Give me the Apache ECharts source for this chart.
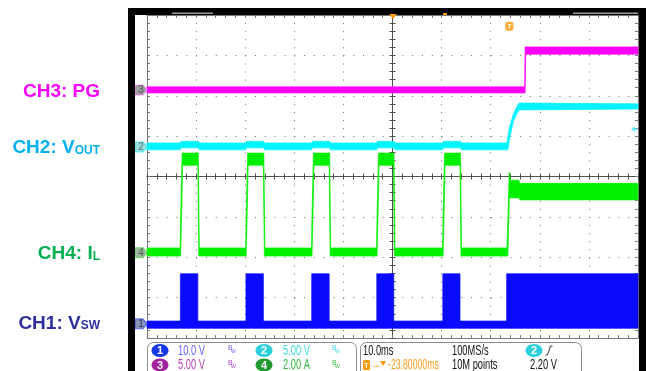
<!DOCTYPE html>
<html><head><meta charset="utf-8">
<script src="https://cdn.jsdelivr.net/npm/echarts@6/dist/echarts.min.js"></script>
<style>html,body{margin:0;padding:0;background:#fff}#c{width:646px;height:371px}</style>
</head><body><div id="c"></div>
<script>
// ---- Data (time in ms, 0..100 over 10 div; amplitude in divisions, -4..4) ----
// Each trace is drawn as its envelope: top edge and bottom edge, left to right.
const ch1Top = [[0,-3.58],[6.8,-3.58],[6.8,-2.41],[10.35,-2.41],[10.35,-3.58],[20.15,-3.58],[20.15,-2.41],[23.7,-2.41],[23.7,-3.58],[33.55,-3.58],[33.55,-2.41],[37.1,-2.41],[37.1,-3.58],[46.8,-3.58],[46.8,-2.41],[50.25,-2.41],[50.25,-3.58],[60.25,-3.58],[60.25,-2.41],[63.75,-2.41],[63.75,-3.58],[73.25,-3.58],[73.25,-2.41],[100,-2.41]];
const ch1Bottom = [[0,-3.76],[100,-3.76]];

const ch2Top = [[0,0.83],[6.75,0.83],[6.95,0.87],[10.45,0.87],[10.65,0.83],[20.1,0.83],[20.3,0.87],[23.75,0.87],[23.95,0.83],[33.5,0.83],[33.7,0.87],[37.15,0.87],[37.35,0.83],[46.75,0.83],[46.95,0.87],[50.3,0.87],[50.5,0.83],[60.2,0.83],[60.4,0.87],[63.85,0.87],[64.05,0.83],[73.3,0.83],[73.5,1.0],[73.8,1.2],[74.6,1.55],[75.3,1.72],[75.8,1.82],[100,1.8]];
const ch2Bottom = [[0,0.66],[6.75,0.66],[6.95,0.71],[10.45,0.71],[10.65,0.66],[20.1,0.66],[20.3,0.71],[23.75,0.71],[23.95,0.66],[33.5,0.66],[33.7,0.71],[37.15,0.71],[37.35,0.66],[46.75,0.66],[46.95,0.71],[50.3,0.71],[50.5,0.66],[60.2,0.66],[60.4,0.71],[63.85,0.71],[64.05,0.66],[73.5,0.66],[73.8,0.9],[74.6,1.35],[75.3,1.55],[75.8,1.65],[100,1.67]];

const ch3Top = [[0,2.22],[76.92,2.22],[77.0,3.21],[100,3.21]];
const ch3Bottom = [[0,2.07],[77.0,2.07],[77.15,3.03],[100,3.03]];

const ch4Top = [[0,-1.77],
 [6.75,-1.77],[6.85,-1.0],[7.0,-0.2],[7.15,0.58],[10.45,0.58],[10.65,-1.77],
 [20.1,-1.77],[20.2,-1.0],[20.35,-0.2],[20.5,0.58],[23.8,0.58],[24.0,-1.77],
 [33.5,-1.77],[33.6,-1.0],[33.75,-0.2],[33.9,0.58],[37.2,0.58],[37.4,-1.77],
 [46.75,-1.77],[46.85,-1.0],[47.0,-0.2],[47.15,0.58],[50.3,0.58],[50.5,-1.77],
 [60.2,-1.77],[60.3,-1.0],[60.45,-0.2],[60.6,0.58],[63.85,0.58],[64.05,-1.77],
 [73.3,-1.77],[73.55,-0.9],[73.75,0.1],[73.85,0.1],[73.95,-0.09],[75.75,-0.09],[75.85,-0.17],[100,-0.17]];
const ch4Bottom = [[0,-1.97],
 [6.85,-1.97],[7.0,-1.2],[7.15,-0.4],[7.25,0.28],[10.35,0.28],[10.55,-1.97],
 [20.2,-1.97],[20.35,-1.2],[20.5,-0.4],[20.6,0.28],[23.7,0.28],[23.9,-1.97],
 [33.6,-1.97],[33.75,-1.2],[33.9,-0.4],[34.0,0.28],[37.1,0.28],[37.3,-1.97],
 [46.85,-1.97],[47.0,-1.2],[47.15,-0.4],[47.25,0.28],[50.2,0.28],[50.4,-1.97],
 [60.3,-1.97],[60.45,-1.2],[60.6,-0.4],[60.7,0.28],[63.75,0.28],[63.95,-1.97],
 [73.5,-1.97],[73.8,-0.53],[75.8,-0.53],[75.9,-0.58],[100,-0.58]];

// channel ground markers (ch1..ch4), trigger
const channelNames = ['1','2','3','4'];
const groundLevels = [-3.65, 0.73, 2.14, -1.89];
const triggerTime = 73.8;
const triggerLevel = 1.17;

// Text
const sideLabels = [['CH3: PG',''],['CH2: V','OUT'],['CH4: I','L'],['CH1: V','SW']];
const scaleTexts = ['10.0 V','5.00 V','5.00 V','2.00 A'];
const timebaseTexts = ['10.0ms','100MS/s','10M points','2.20 V','-23.80000ms'];

// ---- Chart ----
const chart = echarts.init(document.getElementById('c'));
const axisGrey = '#7a7a7a', centerGrey = '#505050', dotGrey = '#6e6e6e';
function ticks(color){
  return {
    axisLine:{show:true,onZero:false,lineStyle:{color:color,width:1}},
    axisTick:{show:true,inside:true,length:3,lineStyle:{color:color}},
    minorTick:{show:true,splitNumber:5,length:3,lineStyle:{color:color}},
    axisLabel:{show:false},splitLine:{show:false},minorSplitLine:{show:false}
  };
}
const X = {type:'value',min:0,max:100,interval:10};
const Y = {type:'value',min:-4,max:4,interval:1};
const H = {type:'value',min:0,max:1,show:false,axisLine:{onZero:false}};

function band(name, top, bottom, color){
  const pts = top.concat(bottom.slice().reverse());
  return {
    type:'custom', name:name, xAxisIndex:0, yAxisIndex:0, data:pts, encode:{x:0,y:1},
    silent:true, animation:false, z:3,
    renderItem:function(params, api){
      if (params.dataIndexInside !== 0) return null;
      const n = params.dataInsideLength, poly = [];
      for (let i=0;i<n;i++) poly.push(api.coord([api.value(0,i), api.value(1,i)]));
      return {type:'polygon', shape:{points:poly}, style:{fill:color, stroke:color, lineWidth:0.7}};
    }
  };
}
const markerStyles = [
  {fill:'#6a78a6',border:'#2840ff',text:'#10104a'},
  {fill:'#7fd6d6',border:'#30f0f0',text:'#505050'},
  {fill:'#8a8a8a',border:'#ff70ff',text:'#404040'},
  {fill:'#86a886',border:'#50e050',text:'#404040'}
];
const markerSeries = channelNames.map(function(n,i){
  return {type:'scatter', xAxisIndex:0, yAxisIndex:0, clip:false, z:5, silent:true, animation:false,
    data:[[0, groundLevels[i]]], symbol:'path://M0,0L8,0L12,5L8,10L0,10Z', symbolSize:[12,10], symbolOffset:[-6,0],
    itemStyle:{color:markerStyles[i].fill, borderColor:markerStyles[i].border, borderWidth:1},
    label:{show:true, formatter:n, position:'inside', color:markerStyles[i].text, fontSize:10, fontFamily:'Liberation Sans'}};
});

const F = '"Liberation Sans", Arial, sans-serif';
function sideLabel(y, parts, color){
  return {type:'text', x:100, y:y, z:100, silent:true, style:{
    text:'{m|'+parts[0]+'}'+(parts[1]?'{s|'+parts[1]+'}':''), align:'right', verticalAlign:'middle',
    rich:{m:{font:'bold 19px '+F, fill:color}, s:{font:'bold 12px '+F, fill:color, verticalAlign:'bottom', padding:[0,0,1,0]}}}};
}
function ptxt(x, y, text, fill, size, sx){
  return {type:'text', x:x, y:y, z:100, scaleX:sx||0.62, silent:true,
    style:{text:text, fill:fill, font:(size||15)+'px '+F, align:'left', verticalAlign:'middle'}};
}
function circ(cx, cy, fill, n){
  return [{type:'ellipse', z:100, shape:{cx:cx,cy:cy,rx:8.5,ry:6.5}, style:{fill:fill}},
    {type:'text', x:cx, y:cy+0.5, z:101, style:{text:n, fill:'#fff', font:'bold 11px '+F, align:'center', verticalAlign:'middle'}}];
}
function bw(x, y, fill){
  return [{type:'text', x:x, y:y, z:100, style:{text:'B', fill:fill, font:'7px '+F, align:'left', verticalAlign:'middle'}},
    {type:'text', x:x+3, y:y+3.5, z:100, style:{text:'W', fill:fill, font:'5px '+F, align:'left', verticalAlign:'middle'}}];
}
const r1 = 350.5, r2 = 365;
const graphics = [
  {type:'rect', z:90, shape:{x:128,y:8,width:518,height:7}, style:{fill:'#000'}},
  {type:'rect', z:90, shape:{x:128,y:8,width:7,height:363}, style:{fill:'#000'}},
  {type:'rect', z:90, shape:{x:639,y:8,width:7,height:363}, style:{fill:'#000'}},
  {type:'rect', z:91, shape:{x:172,y:12.5,width:41,height:1.5}, style:{fill:'#9a9a9a'}},
  {type:'rect', z:91, shape:{x:573,y:12.5,width:65,height:1.5}, style:{fill:'#9a9a9a'}},
  {type:'polygon', z:95, shape:{points:[[389,14],[397,14],[393,19]]}, style:{fill:'#ff9900'}},
  {type:'rect', z:95, shape:{x:443,y:13,width:4,height:2}, style:{fill:'#ff9900'}},
  sideLabel(92, sideLabels[0], '#ff00ff'),
  sideLabel(148, sideLabels[1], '#00b0f0'),
  sideLabel(254, sideLabels[2], '#00b050'),
  sideLabel(323.5, sideLabels[3], '#2f2fa0'),
  {type:'rect', z:99, shape:{x:147.5,y:342.5,width:209,height:40,r:6}, style:{fill:'none',stroke:'#8c8c8c',lineWidth:1}},
  {type:'rect', z:99, shape:{x:360.5,y:342.5,width:221,height:40,r:6}, style:{fill:'none',stroke:'#8c8c8c',lineWidth:1}},
  ...circ(160, r1, '#1638e8', '1'), ...circ(160, r2, '#a0229c', '3'),
  ...circ(264, r1, '#2ccfdc', '2'), ...circ(264, r2, '#1e9a2e', '4'),
  ...circ(534, r1, '#2ccfdc', '2'),
  ptxt(178, r1, scaleTexts[0], '#6464ff'), ptxt(178, r2, scaleTexts[1], '#c040c0'),
  ptxt(283, r1, scaleTexts[2], '#3cd6e2'), ptxt(283, r2, scaleTexts[3], '#2fb43a'),
  ...bw(228, r1-2, '#7a5cff'), ...bw(228, r2-2, '#b040d0'),
  ...bw(332, r1-2, '#40d8e8'), ...bw(332, r2-2, '#40c040'),
  ptxt(363, r1, timebaseTexts[0], '#111'), ptxt(452, r1, timebaseTexts[1], '#111'),
  ptxt(452, r2, timebaseTexts[2], '#111'), ptxt(530, r2, timebaseTexts[3], '#111'),
  {type:'polyline', z:100, shape:{points:[[545.5,355],[547.5,355],[550.5,346],[552.5,346]]}, style:{stroke:'#333',lineWidth:1,fill:'none'}},
  {type:'rect', z:100, shape:{x:363,y:360,width:7,height:10,r:1.5}, style:{fill:'#ff9900'}},
  {type:'text', x:366.5, y:365.5, z:101, style:{text:'T', fill:'#fff', font:'bold 8px '+F, align:'center', verticalAlign:'middle'}},
  ptxt(371, r2, '\u2192', '#ff9900', 12, 0.8),
  {type:'polygon', z:100, shape:{points:[[380,361],[386,361],[383,366]]}, style:{fill:'#ff9900'}},
  ptxt(388, r2, timebaseTexts[4], '#ff9c1a', 15, 0.58)
];

const option = {
  animation:false, backgroundColor:'#fff',
  grid:[
    {left:147,right:8,top:15,bottom:33},
    {left:147,right:8,top:15,height:161.5},
    {left:147,right:8,top:176.5,bottom:33},
    {left:147,width:245.5,top:15,bottom:33},
    {left:392.5,right:8,top:15,bottom:33}
  ],
  xAxis:[
    Object.assign({},X,ticks(axisGrey),{gridIndex:0,position:'bottom',splitLine:{show:true,lineStyle:{type:[1,7.08],color:dotGrey}}}),
    Object.assign({},X,ticks(axisGrey),{gridIndex:0,position:'top'}),
    Object.assign({},X,ticks(centerGrey),{gridIndex:1,position:'bottom'}),
    Object.assign({},X,ticks(centerGrey),{gridIndex:2,position:'top'}),
    Object.assign({},H,{gridIndex:3}),
    Object.assign({},H,{gridIndex:4})
  ],
  yAxis:[
    Object.assign({},Y,ticks(axisGrey),{gridIndex:0,position:'left',splitLine:{show:true,lineStyle:{type:[1,8.82],color:dotGrey}}}),
    Object.assign({},Y,ticks(axisGrey),{gridIndex:0,position:'right'}),
    Object.assign({},H,{gridIndex:1}),
    Object.assign({},H,{gridIndex:2}),
    Object.assign({},Y,ticks(centerGrey),{gridIndex:3,position:'right'}),
    Object.assign({},Y,ticks(centerGrey),{gridIndex:4,position:'left'})
  ],
  series:[
    band('CH1 VSW', ch1Top, ch1Bottom, '#0a0aff'),
    band('CH4 IL', ch4Top, ch4Bottom, '#00f000'),
    band('CH2 VOUT', ch2Top, ch2Bottom, '#00f4ff'),
    band('CH3 PG', ch3Top, ch3Bottom, '#ff00ff'),
    ...markerSeries,
    {type:'scatter', xAxisIndex:0, yAxisIndex:0, clip:false, z:6, silent:true, data:[[100, triggerLevel]],
      symbol:'path://M0,3L4,0L4,2L6,2L6,4L4,4L4,6Z', symbolSize:[6,6], symbolOffset:[-4,0], itemStyle:{color:'#40e6f6'}},
    {type:'scatter', xAxisIndex:0, yAxisIndex:0, clip:false, z:6, silent:true, data:[[triggerTime, 3.72]],
      symbol:'roundRect', symbolSize:[8,9], itemStyle:{color:'#ff9900'},
      label:{show:true, position:'inside', formatter:'T', color:'#fff', fontSize:8, fontWeight:'bold', fontFamily:'Liberation Sans'}}
  ],
  graphic:graphics
};
chart.setOption(option);
</script></body></html>
